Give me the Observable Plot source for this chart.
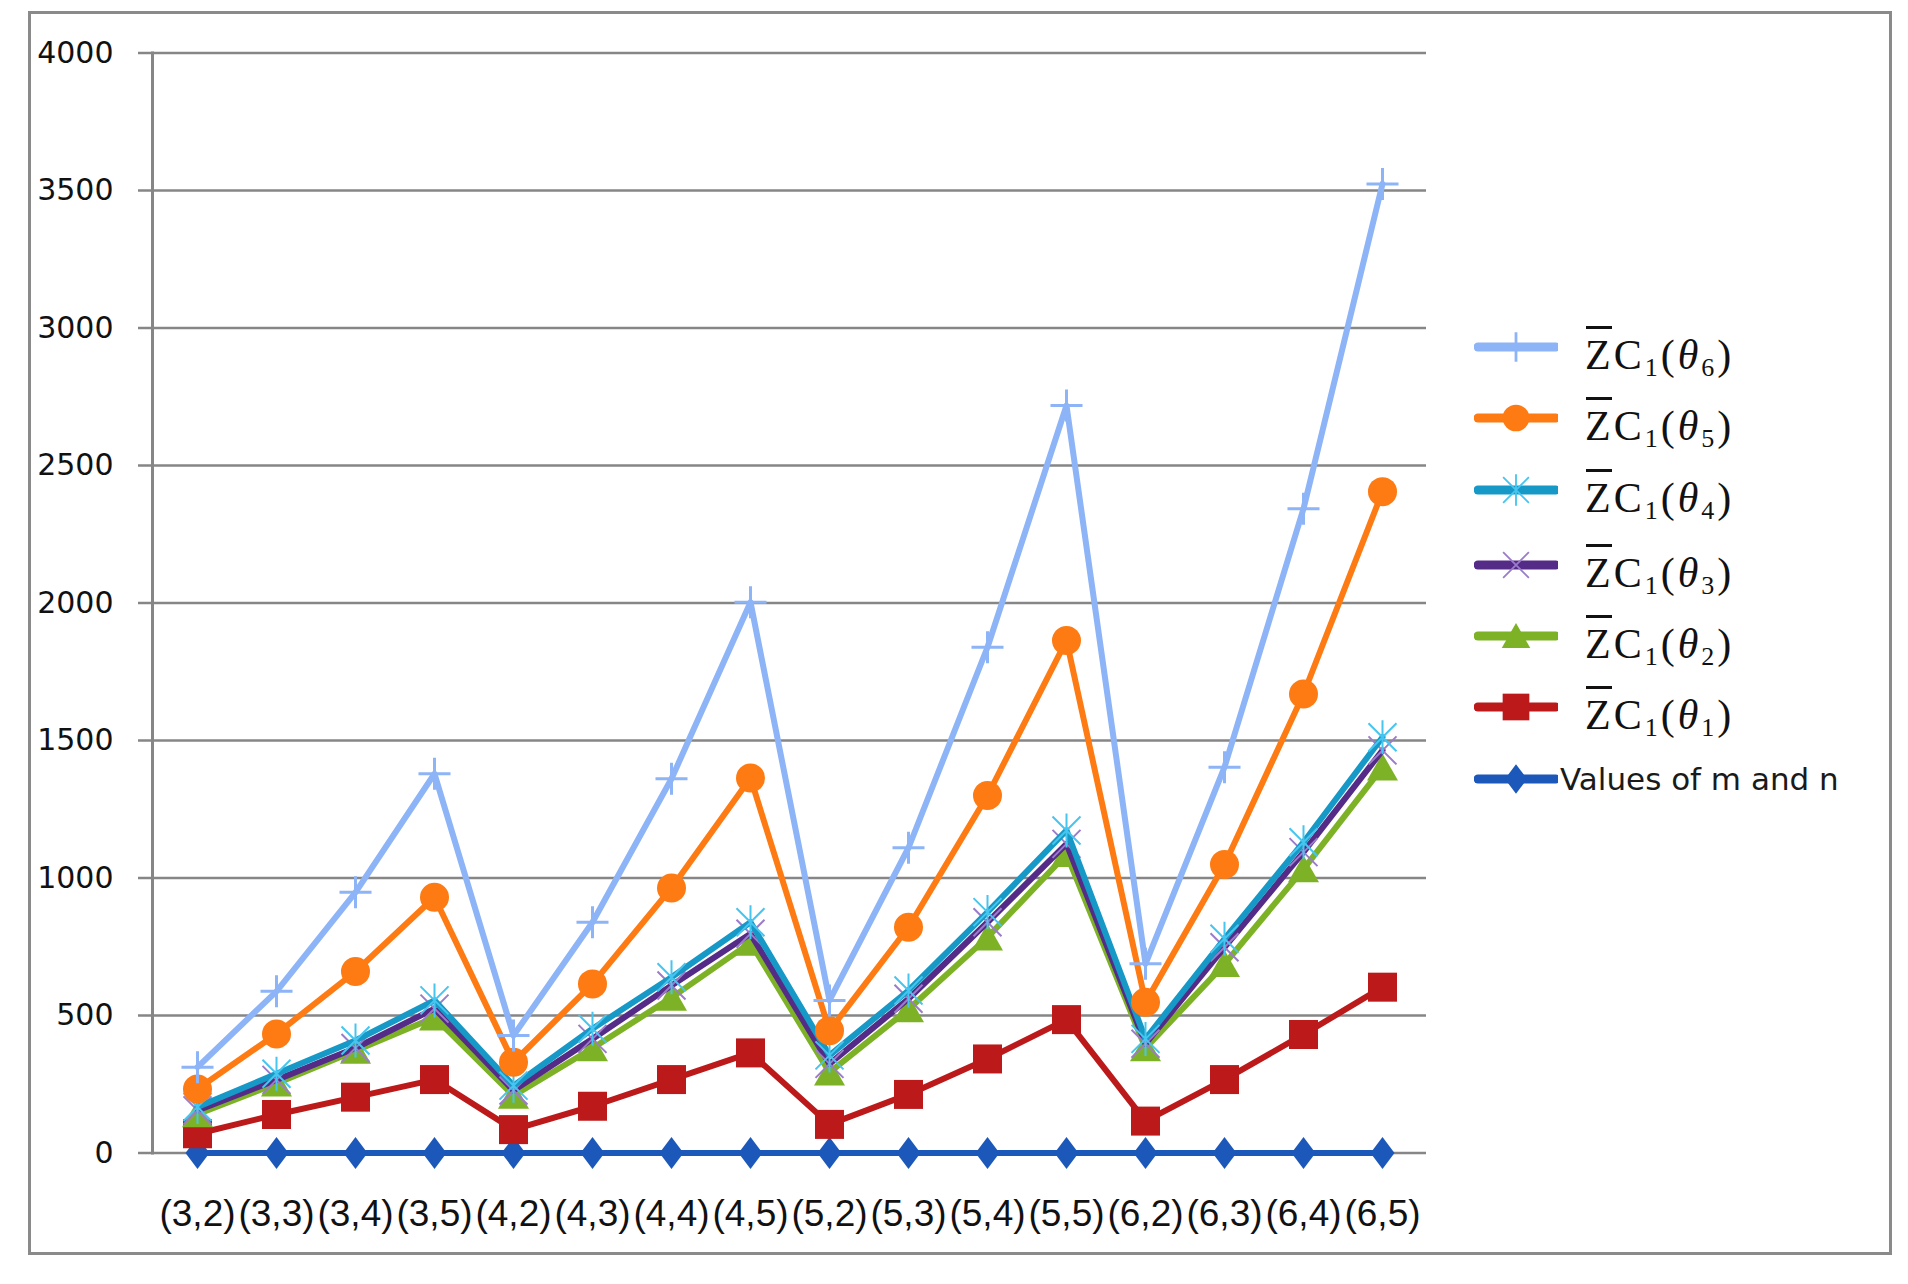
<!DOCTYPE html>
<html>
<head>
<meta charset="utf-8">
<script src="https://cdn.jsdelivr.net/npm/d3@7"></script>
<script src="https://cdn.jsdelivr.net/npm/@observablehq/plot@0.6"></script>
<style>
html, body { margin: 0; padding: 0; background: #fff; }
#wrap { position: relative; width: 1908px; height: 1284px; overflow: hidden; background: #fff; }
#border { position: absolute; left: 28px; top: 11px; width: 1858px; height: 1238px; border: 3px solid #8a8a8a; }
#chart { position: absolute; left: 0; top: 0; }
#legend { position: absolute; left: 1474px; top: 311px; width: 420px; height: 520px; }
.row { position: absolute; left: 0; height: 72px; display: flex; align-items: center; white-space: nowrap; }
.row svg { flex: none; }
.math { font-family: "Liberation Serif", "DejaVu Serif", serif; font-size: 42px; color: #111; margin-left: 27px; position: relative; top: 8px; letter-spacing: 3px; line-height: 1; }
.math sub { font-size: 0.62em; vertical-align: -0.28em; line-height: 0; }
.math i { font-style: italic; }
.ov { position: relative; display: inline-block; }
.ov::before { content: ""; position: absolute; left: 1px; right: 2px; top: -8px; border-top: 3px solid #111; }
.plain { font-family: "DejaVu Sans", sans-serif; font-size: 31px; color: #1a1a1a; margin-left: 2px; }
</style>
</head>
<body>
<div id="wrap">
  <div id="border"></div>
  <div id="chart"></div>
  <div id="legend"></div>
</div>
<script>
// ---- data ----
const categories = ["(3,2)","(3,3)","(3,4)","(3,5)","(4,2)","(4,3)","(4,4)","(4,5)","(5,2)","(5,3)","(5,4)","(5,5)","(6,2)","(6,3)","(6,4)","(6,5)"];
const zc6 = [312, 588, 948, 1379, 427, 839, 1361, 2003, 555, 1110, 1839, 2718, 688, 1403, 2343, 3524];
const zc5 = [233, 433, 660, 930, 330, 615, 964, 1364, 445, 821, 1300, 1864, 548, 1049, 1669, 2405];
const zc4 = [167, 288, 409, 555, 245, 452, 639, 839, 355, 591, 876, 1173, 415, 779, 1130, 1512];
const zc3 = [155, 266, 382, 525, 227, 415, 609, 797, 324, 561, 839, 1124, 397, 748, 1094, 1464];
const zc2 = [141, 253, 372, 493, 208, 381, 565, 765, 293, 523, 784, 1087, 381, 687, 1032, 1402];
const zc1 = [70, 140, 203, 267, 85, 170, 267, 364, 104, 213, 342, 485, 116, 267, 431, 603];
const mn  = [0, 0, 0, 0, 0, 0, 0, 0, 0, 0, 0, 0, 0, 0, 0, 0];
const yTicks = [0, 500, 1000, 1500, 2000, 2500, 3000, 3500, 4000];
const seriesNames = ["ZC1(θ6)", "ZC1(θ5)", "ZC1(θ4)", "ZC1(θ3)", "ZC1(θ2)", "ZC1(θ1)", "Values of m and n"];
const seriesSubs = ["6", "5", "4", "3", "2", "1", null];

// ---- custom symbols (Excel-like markers) ----
const plusSym = {draw(c) { c.moveTo(-16, 0); c.lineTo(16, 0); c.moveTo(0, -16); c.lineTo(0, 16); }};
const timesSym = {draw(c) { c.moveTo(-14, -14); c.lineTo(14, 14); c.moveTo(-14, 14); c.lineTo(14, -14); }};
const astSym = {draw(c) { c.moveTo(-14, -14); c.lineTo(14, 14); c.moveTo(-14, 14); c.lineTo(14, -14); c.moveTo(0, -17); c.lineTo(0, 17); }};
const squareSym = {draw(c) { c.rect(-14.5, -14.5, 29, 29); }};
const triSym = {draw(c) { c.moveTo(0, -14); c.lineTo(15.5, 13); c.lineTo(-15.5, 13); c.closePath(); }};
const diamondSym = {draw(c) { c.moveTo(0, -16); c.lineTo(12, 0); c.lineTo(0, 16); c.lineTo(-12, 0); c.closePath(); }};
const circleSym = {draw(c) { c.moveTo(14.5, 0); c.arc(0, 0, 14.5, 0, 2 * Math.PI); }};

const styles = [
  {name: seriesNames[0], values: zc6, color: "#8db4f7", sym: plusSym, mfill: "none", mstroke: "#8db4f7", msw: 3},
  {name: seriesNames[1], values: zc5, color: "#fd7b12", sym: circleSym, mfill: "#fd7b12", mstroke: "none", msw: 0},
  {name: seriesNames[2], values: zc4, color: "#1699c6", sym: astSym, mfill: "none", mstroke: "#45c5ef", msw: 2},
  {name: seriesNames[3], values: zc3, color: "#552b88", sym: timesSym, mfill: "none", mstroke: "#9b7ccb", msw: 2},
  {name: seriesNames[4], values: zc2, color: "#7db226", sym: triSym, mfill: "#7db226", mstroke: "none", msw: 0},
  {name: seriesNames[5], values: zc1, color: "#bc1a1a", sym: squareSym, mfill: "#bc1a1a", mstroke: "none", msw: 0},
  {name: seriesNames[6], values: mn, color: "#1b58b9", sym: diamondSym, mfill: "#1b58b9", mstroke: "none", msw: 0}
];
const drawOrder = [6, 5, 4, 3, 2, 1, 0];

const seriesMarks = [];
for (const i of drawOrder) {
  const s = styles[i];
  const data = categories.map((c, k) => ({cat: c, v: s.values[k]}));
  seriesMarks.push(Plot.line(data, {x: "cat", y: "v", stroke: s.color, strokeWidth: 6, strokeLinejoin: "round"}));
  seriesMarks.push(Plot.dot(data, {x: "cat", y: "v", symbol: s.sym, r: 10, fill: s.mfill, stroke: s.mstroke, strokeWidth: s.msw}));
}

const chart = Plot.plot({
  width: 1908,
  height: 1284,
  marginLeft: 152,
  marginRight: 482,
  marginTop: 52.5,
  marginBottom: 131.5,
  style: {background: "transparent", fontFamily: "DejaVu Sans", color: "#111"},
  x: {type: "point", domain: categories, padding: 0.5},
  y: {domain: [0, 4000]},
  marks: [
    Plot.gridY(yTicks, {stroke: "#868686", strokeOpacity: 1, strokeWidth: 2.5}),
    Plot.axisY(yTicks, {tickSize: 14, tickPadding: 25, tickFormat: d => String(d), stroke: "#868686", strokeWidth: 2.5, fontSize: 30, fontFamily: "DejaVu Sans", fill: "#111", label: null}),
    Plot.axisX({tickSize: 0, tickPadding: 47, fontSize: 37, fontFamily: "Liberation Sans", fill: "#111", label: null}),
    Plot.frame({anchor: "left", stroke: "#868686", strokeWidth: 3}),
    ...seriesMarks
  ]
});
document.getElementById("chart").appendChild(chart);

// ---- legend ----
const legend = document.getElementById("legend");
const rowTops = [0, 71, 143, 218, 289, 360, 432];
const ns = "http://www.w3.org/2000/svg";
styles.forEach((s, i) => {
  const row = document.createElement("div");
  row.className = "row";
  row.style.top = rowTops[i] + "px";
  const svg = document.createElementNS(ns, "svg");
  svg.setAttribute("width", 84);
  svg.setAttribute("height", 44);
  const line = document.createElementNS(ns, "line");
  line.setAttribute("x1", 4); line.setAttribute("x2", 82);
  line.setAttribute("y1", 22); line.setAttribute("y2", 22);
  line.setAttribute("stroke", s.color); line.setAttribute("stroke-width", 9);
  line.setAttribute("stroke-linecap", "round");
  svg.appendChild(line);
  const p = d3.path();
  s.sym.draw(p, 0);
  const path = document.createElementNS(ns, "path");
  path.setAttribute("d", p.toString());
  path.setAttribute("transform", "translate(42,22) scale(0.92)");
  path.setAttribute("fill", s.mfill);
  path.setAttribute("stroke", s.mstroke);
  path.setAttribute("stroke-width", s.msw);
  svg.appendChild(path);
  row.appendChild(svg);
  const label = document.createElement("span");
  if (seriesSubs[i]) {
    label.className = "math";
    label.innerHTML = '<span class="ov">Z</span>C<sub>1</sub>(<i>θ</i><sub>' + seriesSubs[i] + '</sub>)';
  } else {
    label.className = "plain";
    label.textContent = s.name;
  }
  row.appendChild(label);
  legend.appendChild(row);
});
</script>
</body>
</html>
